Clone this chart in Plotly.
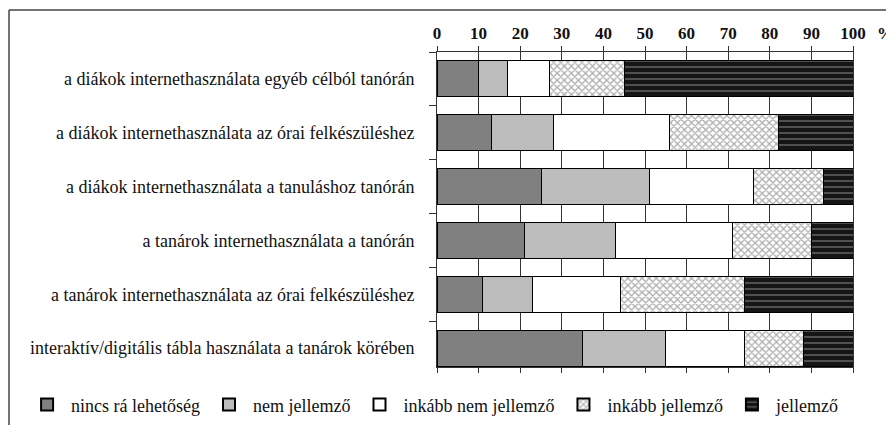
import plotly.graph_objects as go

# categories, top to bottom
kategoriak = [
    "a diákok internethasználata egyéb célból tanórán",
    "a diákok internethasználata az órai felkészüléshez",
    "a diákok internethasználata a tanuláshoz tanórán",
    "a tanárok internethasználata a tanórán",
    "a tanárok internethasználata az órai felkészüléshez",
    "interaktív/digitális tábla használata a tanárok körében",
]

# answer shares (%)
nincs_ra_lehetoseg = [10, 13, 25, 21, 11, 35]
nem_jellemzo = [7, 15, 26, 22, 12, 20]
inkabb_nem_jellemzo = [10, 28, 25, 28, 21, 19]
inkabb_jellemzo = [18, 26, 17, 19, 30, 14]
jellemzo = [55, 18, 7, 10, 26, 12]

x_ticks = [0, 10, 20, 30, 40, 50, 60, 70, 80, 90, 100]

FONT = "Liberation Serif"

series = [
    ("nincs rá lehetőség", nincs_ra_lehetoseg, dict(color="#808080")),
    ("nem jellemző", nem_jellemzo, dict(color="#bcbcbc")),
    ("inkább nem jellemző", inkabb_nem_jellemzo, dict(color="#ffffff")),
    ("inkább jellemző", inkabb_jellemzo,
     dict(color="#ffffff",
          pattern=dict(shape="x", fgcolor="#5a5a5a", bgcolor="#ffffff",
                       size=5, solidity=0.45))),
    ("jellemző", jellemzo,
     dict(color="#151515",
          pattern=dict(shape="-", fgcolor="#d8d8d8", bgcolor="#151515",
                       size=6, solidity=0.2))),
]

fig = go.Figure()
for name, vals, mk in series:
    mk = dict(mk)
    mk["line"] = dict(color="#000000", width=1)
    fig.add_trace(go.Bar(
        y=kategoriak, x=vals, name=name, orientation="h",
        width=0.67, marker=mk,
    ))

# page body adds an 8px offset, so the figure is a bit smaller than the window
fig.update_layout(
    barmode="stack",
    width=886, height=417,
    margin=dict(l=429, r=41, t=44, b=58, autoexpand=False),
    paper_bgcolor="white", plot_bgcolor="white",
    font=dict(family=FONT, size=18, color="#111111"),
    showlegend=True,
    legend=dict(
        orientation="h", x=-0.995, xanchor="left", y=-0.12, yanchor="middle",
        font=dict(family=FONT, size=18, color="#111111"),
        traceorder="normal", itemwidth=38, itemsizing="constant",
    ),
    xaxis=dict(
        side="top", range=[0, 100], tickvals=x_ticks,
        showgrid=True, gridcolor="#333333", gridwidth=1,
        zeroline=False, showline=True, linecolor="#333333", linewidth=1,
        mirror="ticks", ticks="outside", ticklen=5, tickcolor="#333333",
        tickfont=dict(family=FONT, size=17, color="#111111", weight="bold"),
        fixedrange=True,
    ),
    yaxis=dict(
        categoryorder="array", categoryarray=kategoriak,
        range=[5.35, -0.5], tickson="boundaries",
        ticks="outside", ticklen=7, tickcolor="#333333",
        showline=True, linecolor="#333333", linewidth=1, mirror=True,
        showgrid=False, ticklabelstandoff=18,
        tickfont=dict(family=FONT, size=18, color="#111111"),
        fixedrange=True,
    ),
    shapes=[
        dict(type="line", xref="paper", yref="paper",
             x0=-1.0288, x1=1.2, y0=1.1333, y1=1.1333,
             line=dict(color="#444444", width=1.5)),
        dict(type="line", xref="paper", yref="paper",
             x0=-1.0288, x1=-1.0288, y0=1.1333, y1=-0.3,
             line=dict(color="#444444", width=1.5)),
    ],
    annotations=[
        dict(text="<b>%</b>", xref="paper", yref="paper", x=1.077, y=1.06,
             showarrow=False, xanchor="center", yanchor="middle",
             font=dict(family=FONT, size=17, color="#111111")),
    ],
)

fig.write_html("out.html")
